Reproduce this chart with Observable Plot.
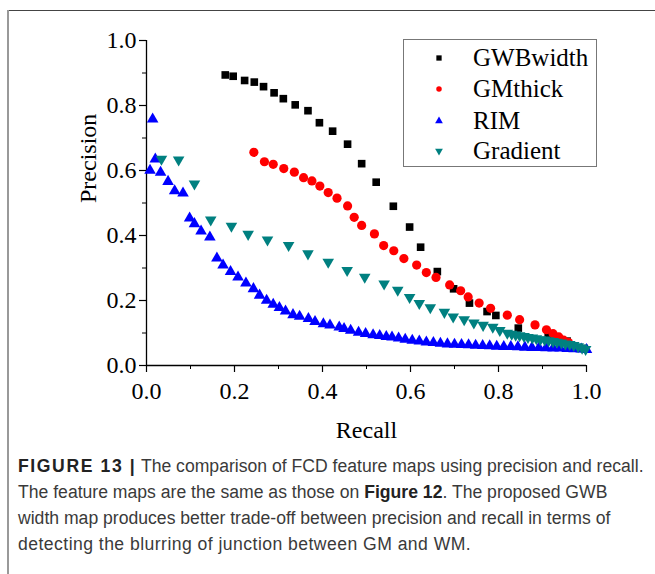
<!DOCTYPE html>
<html>
<head>
<meta charset="utf-8">
<script src="https://cdn.jsdelivr.net/npm/d3@7"></script>
<script src="https://cdn.jsdelivr.net/npm/@observablehq/plot@0.6"></script>
<style>
  html, body { margin: 0; padding: 0; background: #fff; }
  #wrap { position: relative; width: 655px; height: 574px; overflow: hidden; }
  #frameTop { position: absolute; left: 7px; top: 10px; width: 648px; height: 1px; background: #444; }
  #frameLeft { position: absolute; left: 7px; top: 10px; width: 2px; height: 564px; background: #999; }
  #chart { position: absolute; left: 0; top: 0; }
  #legend { position: absolute; left: 403px; top: 39px; width: 194px; height: 128px; border: 1px solid #777; box-sizing: border-box; background: #fff;
            font-family: "Liberation Serif", "Times New Roman", serif; font-size: 25px; color: #000; }
  .lrow { position: absolute; left: 0; height: 30px; line-height: 30px; }
  .lrow svg { position: absolute; left: 28px; top: 8px; }
  .lrow span { position: absolute; left: 69px; top: 0; white-space: nowrap; }
  #caption { position: absolute; left: 18px; top: 453px; width: 637px; font-family: "Liberation Sans", Arial, sans-serif; font-size: 17.6px; line-height: 26px; color: #3a3a3a; white-space: nowrap; }
  #caption b { color: #222; }
  #caption .fig { letter-spacing: 1.6px; }
  #caption .l4 { letter-spacing: 0.45px; }
</style>
</head>
<body>
<div id="wrap">
  <div id="chart"></div>
  <div id="frameTop"></div>
  <div id="frameLeft"></div>
  <div id="legend"></div>
  <div id="caption"><b class="fig">FIGURE 13 |</b> The comparison of FCD feature maps using precision and recall.<br>The feature maps are the same as those on <b>Figure 12</b>. The proposed GWB<br>width map produces better trade-off between precision and recall in terms of<br><span class="l4">detecting the blurring of junction between GM and WM.</span></div>
</div>
<script>
// ---- Data ----
const seriesNames = ["GWBwidth", "GMthick", "RIM", "Gradient"];
const seriesColors = ["#000000", "#ff0000", "#0000ff", "#008080"];

const gwbRecall = [0.179,0.197,0.223,0.245,0.266,0.290,0.311,0.338,0.367,0.393,0.423,0.457,0.489,0.522,0.561,0.598,0.623,0.661,0.698,0.734,0.774,0.794,0.845,0.913,0.956,0.995];
const gwbPrecision = [0.894,0.890,0.877,0.872,0.858,0.839,0.821,0.802,0.784,0.747,0.721,0.681,0.621,0.564,0.490,0.426,0.364,0.289,0.236,0.192,0.166,0.154,0.115,0.089,0.075,0.052];

const gmRecall = [0.244,0.268,0.288,0.312,0.336,0.357,0.376,0.394,0.413,0.433,0.457,0.472,0.489,0.518,0.539,0.562,0.585,0.614,0.636,0.658,0.689,0.714,0.731,0.756,0.782,0.820,0.848,0.883,0.909,0.924,0.937,0.948,0.959];
const gmPrecision = [0.656,0.627,0.619,0.606,0.595,0.578,0.568,0.552,0.532,0.515,0.491,0.456,0.431,0.405,0.369,0.353,0.329,0.309,0.286,0.271,0.248,0.230,0.211,0.192,0.176,0.155,0.141,0.125,0.110,0.098,0.088,0.078,0.071];

const rimRecall = [0.014,0.020,0.008,0.032,0.049,0.064,0.083,0.098,0.109,0.124,0.144,0.160,0.174,0.191,0.208,0.226,0.243,0.257,0.273,0.288,0.302,0.316,0.333,0.348,0.368,0.383,0.402,0.417,0.438,0.449,0.464,0.482,0.498,0.515,0.530,0.545,0.558,0.573,0.588,0.604,0.620,0.636,0.652,0.668,0.684,0.700,0.716,0.732,0.748,0.764,0.780,0.796,0.812,0.828,0.844,0.860,0.876,0.892,0.908,0.924,0.940,0.956,0.972,0.988,1.000];
const rimPrecision = [0.758,0.635,0.600,0.594,0.566,0.537,0.530,0.453,0.436,0.413,0.395,0.330,0.309,0.289,0.272,0.253,0.236,0.216,0.200,0.188,0.178,0.167,0.156,0.151,0.144,0.135,0.128,0.124,0.118,0.113,0.108,0.102,0.098,0.094,0.092,0.089,0.087,0.084,0.080,0.077,0.075,0.072,0.070,0.068,0.066,0.065,0.064,0.063,0.062,0.061,0.060,0.059,0.058,0.058,0.057,0.056,0.055,0.055,0.054,0.053,0.053,0.052,0.051,0.050,0.049];

const gradRecall = [0.034,0.073,0.109,0.146,0.193,0.231,0.275,0.323,0.367,0.413,0.456,0.496,0.540,0.571,0.598,0.620,0.645,0.677,0.697,0.722,0.744,0.765,0.787,0.803,0.820,0.830,0.839,0.848,0.858,0.867,0.877,0.886,0.895,0.905,0.914,0.924,0.933,0.943,0.952,0.962,0.971,0.981,0.990,0.998];
const gradPrecision = [0.635,0.633,0.559,0.448,0.429,0.404,0.387,0.370,0.344,0.318,0.293,0.272,0.251,0.232,0.210,0.191,0.178,0.164,0.150,0.141,0.131,0.124,0.118,0.108,0.100,0.097,0.094,0.092,0.090,0.087,0.085,0.083,0.080,0.079,0.077,0.074,0.072,0.070,0.067,0.065,0.062,0.058,0.054,0.050];

const majorTicks = [0, 0.2, 0.4, 0.6, 0.8, 1.0];
const minorTicks = [0.1, 0.3, 0.5, 0.7, 0.9];
const xLabel = "Recall";
const yLabel = "Precision";

// ---- Build table ----
const triangleDown = {
  draw(context, size) {
    const y = -Math.sqrt(size / (Math.sqrt(3) * 3));
    context.moveTo(0, -y * 2);
    context.lineTo(-Math.sqrt(3) * y, y);
    context.lineTo(Math.sqrt(3) * y, y);
    context.closePath();
  }
};
const seriesSymbols = ["square", "circle", "triangle", triangleDown];
const seriesR = [4.3, 4.6, 4.3, 4.3];
const recalls = [gwbRecall, gmRecall, rimRecall, gradRecall];
const precisions = [gwbPrecision, gmPrecision, rimPrecision, gradPrecision];

const serif = "'Liberation Serif', 'Times New Roman', serif";
const width = 655, height = 450;

const marks = [];
seriesNames.forEach((name, i) => {
  const rows = recalls[i].map((r, j) => ({series: name, recall: r, precision: precisions[i][j]}));
  marks.push(Plot.dot(rows, {x: "recall", y: "precision", symbol: () => seriesSymbols[i], fill: seriesColors[i], stroke: "none", r: seriesR[i]}));
});

const plot = Plot.plot({
  width, height,
  marginLeft: 146, marginRight: 69, marginTop: 40, marginBottom: height - 365,
  style: {fontFamily: serif, fontSize: "24px", color: "#000", background: "transparent", overflow: "visible"},
  x: {domain: [0, 1]},
  y: {domain: [0, 1]},
  symbol: {type: "identity"},
  marks: [
    Plot.axisX({ticks: minorTicks, tickSize: 4, tickFormat: () => "", label: null, stroke: "#000"}),
    Plot.axisY({ticks: minorTicks, tickSize: 4, tickFormat: () => "", label: null, stroke: "#000"}),
    Plot.axisX({ticks: majorTicks, tickSize: 7, tickPadding: 9, tickFormat: d3.format(".1f"), label: null, fontSize: 24, stroke: "#000", strokeWidth: 1.2}),
    Plot.axisY({ticks: majorTicks, tickSize: 7, tickPadding: 3, tickFormat: d3.format(".1f"), label: null, fontSize: 24, stroke: "#000", strokeWidth: 1.2}),
    Plot.ruleY([0], {stroke: "#000", strokeWidth: 1.3}),
    Plot.ruleX([0], {stroke: "#000", strokeWidth: 1.3}),
    ...marks,
    Plot.text([xLabel], {frameAnchor: "bottom", dy: 72, fontSize: 24, fontFamily: serif, fill: "#000"}),
    Plot.text([yLabel], {frameAnchor: "left", dx: -58, rotate: -90, fontSize: 24, fontFamily: serif, fill: "#000"})
  ]
});
document.getElementById("chart").appendChild(plot);

// ---- Legend ----
const legend = document.getElementById("legend");
const rowTops = [3, 34, 66, 96];
seriesNames.forEach((name, i) => {
  const row = document.createElement("div");
  row.className = "lrow";
  row.style.top = rowTops[i] + "px";
  const sym = d3.create("svg").attr("width", 14).attr("height", 14);
  const s = seriesSymbols[i];
  const typeMap = {square: d3.symbolSquare, circle: d3.symbolCircle, triangle: d3.symbolTriangle};
  const t = typeof s === "string" ? typeMap[s] : s;
  sym.append("path").attr("transform", "translate(7,7)").attr("d", d3.symbol(t, [28, 24, 26, 26][i])()).attr("fill", seriesColors[i]);
  row.appendChild(sym.node());
  const span = document.createElement("span");
  span.textContent = name;
  row.appendChild(span);
  legend.appendChild(row);
});
</script>
</body>
</html>
